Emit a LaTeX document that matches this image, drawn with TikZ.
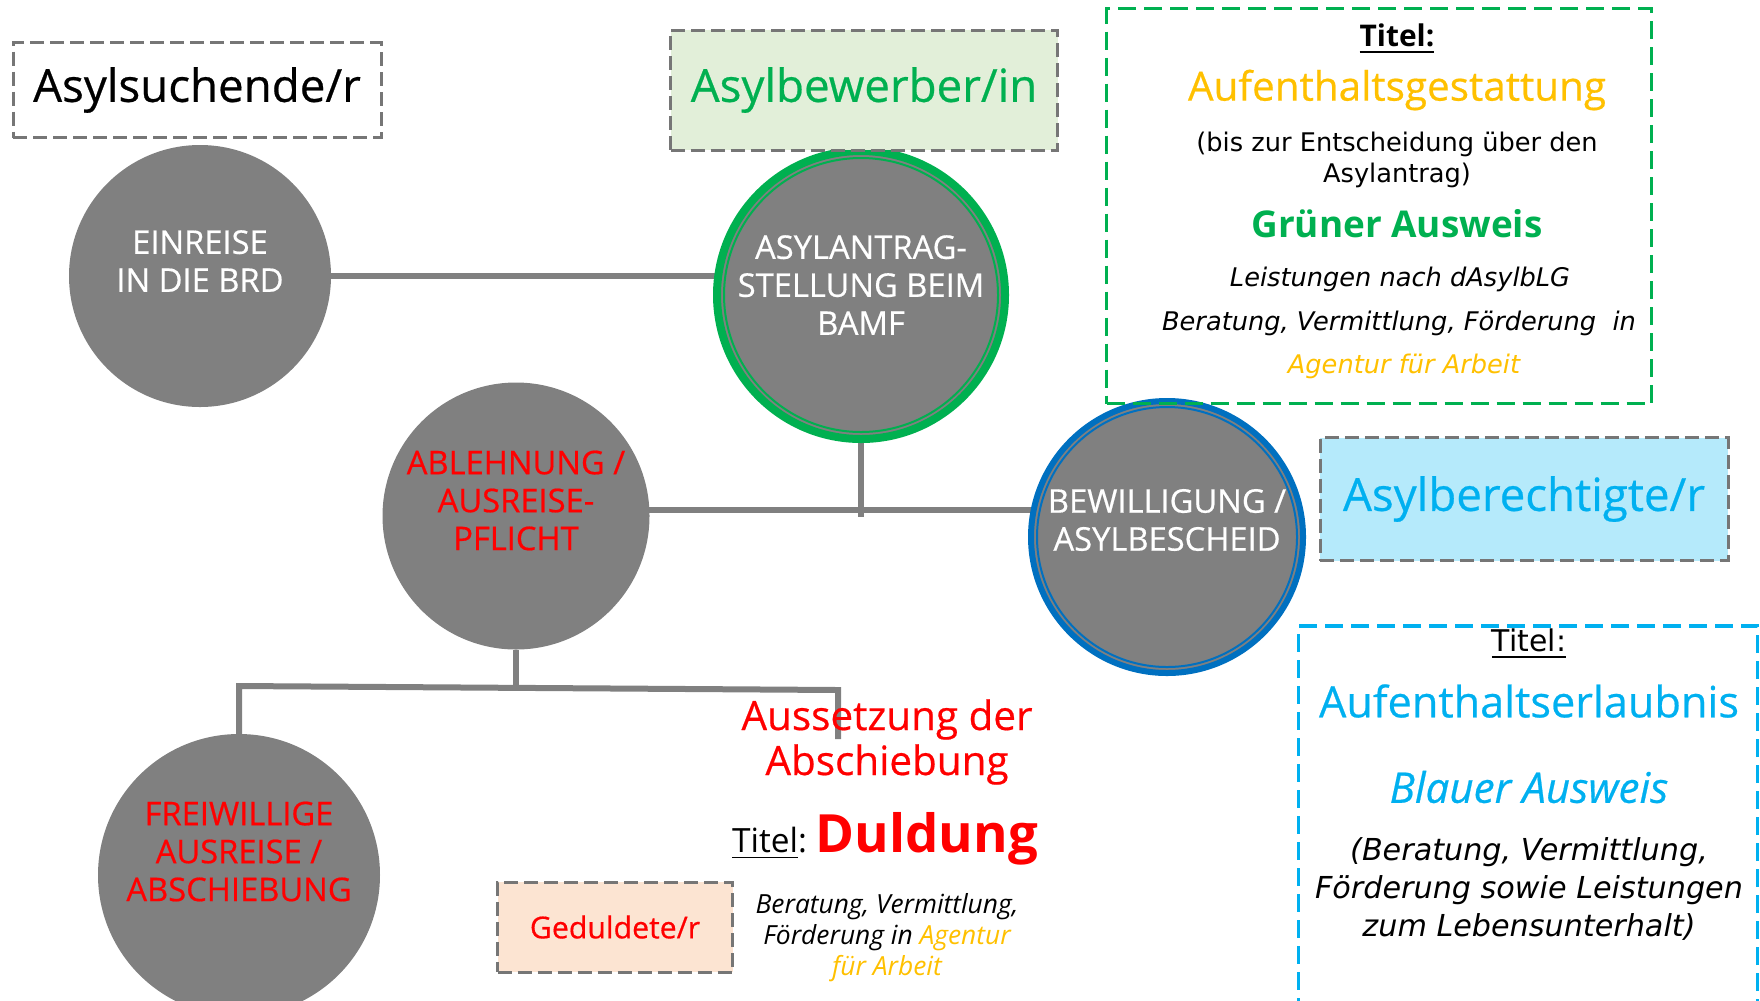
\documentclass[tikz,border=0pt]{standalone}
\usepackage{fontspec}
\setmainfont{Open Sans}
\newfontfamily\verd{DejaVu Sans}
\newfontfamily\semi{Open Sans}[FakeBold=0.5]
\usepackage{tikz}
\usetikzlibrary{shapes,positioning,backgrounds}
\definecolor{cgray}{RGB}{128,128,128}
\definecolor{dgray}{RGB}{118,118,118}
\definecolor{cgreen}{RGB}{0,176,80}
\definecolor{corange}{RGB}{255,192,0}
\definecolor{cblue}{RGB}{0,112,192}
\definecolor{clblue}{RGB}{0,176,240}
\definecolor{cred}{RGB}{255,0,0}
\definecolor{fgreen}{RGB}{226,239,217}
\definecolor{fblue}{RGB}{181,234,251}
\definecolor{fpeach}{RGB}{252,228,210}
\tikzstyle{circ} = [circle, fill=cgray, inner sep=0pt, outer sep=0pt]
\tikzstyle{ctext} = [text=white, align=center, inner sep=0pt, font=\semi\fontsize{9.3}{10.8}\selectfont]
\tikzstyle{tag} = [rectangle, draw=dgray, line width=0.3mm, dash pattern=on 1.4mm off 0.6mm, inner sep=0pt, font=\semi\fontsize{13}{15}\selectfont]
\tikzstyle{info} = [rectangle, line width=0.35mm, dash pattern=on 1.8mm off 0.8mm, inner sep=0pt]
\tikzstyle{textonly} = [draw=none, fill=none, inner sep=0pt, align=center]
\tikzstyle{conn} = [draw=cgray, line width=0.6mm]

\begin{document}
\begin{tikzpicture}[x=0.1mm, y=-0.1mm]
\useasboundingbox (0,0) rectangle (1760,1000);
\clip (0,0) rectangle (1760,1000);

% steps =============================
\node[circ, minimum size=26.2mm, label={[ctext, yshift=1.5mm]center:{EINREISE\\IN DIE BRD}}] (einreise) at (200,276) {};
\node[circ, draw=cgreen, line width=0.8mm, minimum size=28.8mm, label={[ctext, yshift=1mm]center:{ASYLANTRAG-\\STELLUNG BEIM\\BAMF}}] (antrag) at (861,295) {};
\node[circ, draw=cblue, line width=0.6mm, minimum size=27.2mm, label={[ctext, yshift=1.7mm]center:{BEWILLIGUNG /\\ASYLBESCHEID}}] (bewilligung) at (1167,537) {};
\node[circ, minimum size=26.7mm, label={[ctext, text=cred, yshift=1.55mm]center:{ABLEHNUNG /\\AUSREISE-\\PFLICHT}}] (ablehnung) at (516,516) {};
\node[circ, minimum size=28.2mm, label={[ctext, text=cred, yshift=2.35mm]center:{FREIWILLIGE\\AUSREISE /\\ABSCHIEBUNG}}] (freiwillige) at (239,875) {};
\draw[cgreen, line width=0.2mm] (antrag.center) circle [radius=13.7mm];
\draw[cblue, line width=0.2mm] (bewilligung.center) circle [radius=13.0mm];

% status boxes
\node[tag, minimum width=36.8mm, minimum height=9.5mm] (suchende) at (197,90) {Asylsuchende/r};
\node[tag, fill=fgreen, text=cgreen, minimum width=38.7mm, minimum height=12mm] (bewerber) at (864,90) {Asylbewerber/in};
\node[tag, fill=fblue, text=clblue, minimum width=40.8mm, minimum height=12.3mm] (berechtigte) at (1524,499) {Asylberechtigte/r};
\node[tag, fill=fpeach, text=cred, minimum width=23.5mm, minimum height=9mm, font=\semi\fontsize{8.6}{10}\selectfont] (geduldete) at (615,927) {Geduldete/r};

% title boxes
\node[info, draw=cgreen, minimum width=54.5mm, minimum height=39.5mm] (gestattung) at (1379,206) {};
\node[info, draw=clblue, minimum width=45.9mm, minimum height=40mm] (erlaubnis) at (1528,826) {};

\node[textonly, font=\fontsize{8.5}{10}\selectfont\bfseries] (gtitel) at (1397,39) {\underline{Titel:}};
\node[textonly, text=corange, font=\semi\fontsize{11.5}{13}\selectfont] (gname) at (1397,90) {Aufenthaltsgestattung};
\node[textonly, font=\verd\fontsize{7.3}{8.8}\selectfont] (gbis) at (1397,160) {(bis zur Entscheidung über den\\Asylantrag)};
\node[textonly, text=cgreen, font=\fontsize{10.5}{12}\selectfont\bfseries] (gausweis) at (1397,224) {Grüner Ausweis};
\node[textonly, font=\verd\fontsize{7.3}{8.8}\selectfont\itshape] (gleist) at (1400,279) {Leistungen nach dAsylbLG};
\node[textonly, font=\verd\fontsize{7.3}{8.8}\selectfont\itshape] (gberat) at (1399,323) {Beratung, Vermittlung, Förderung\ \ in};
\node[textonly, text=corange, font=\verd\fontsize{7.3}{8.8}\selectfont\itshape] (gagentur) at (1404,366) {Agentur für Arbeit};

\node[textonly, font=\verd\fontsize{8.5}{10}\selectfont] (btitel) at (1529,644) {\underline{Titel:}};
\node[textonly, text=clblue, font=\semi\fontsize{12.3}{14}\selectfont] (bname) at (1529,701) {Aufenthaltserlaubnis};
\node[textonly, text=clblue, font=\semi\fontsize{12}{13}\selectfont\itshape] (bausweis) at (1529,787) {Blauer Ausweis};
\node[textonly, font=\verd\fontsize{8.6}{10.95}\selectfont\itshape] (bberat) at (1529,889) {(Beratung, Vermittlung,\\Förderung sowie Leistungen\\zum Lebensunterhalt)};

\node[textonly, text=cred, font=\semi\fontsize{11.5}{12.8}\selectfont] (aussetzung) at (887,742) {Aussetzung der\\Abschiebung};
\node[textonly, anchor=base] (duldung) at (885,852) {\fontsize{9.5}{11}\selectfont\underline{Titel}:\ {\fontsize{15}{18}\selectfont\bfseries\color{cred}Duldung}};
\node[textonly, font=\fontsize{7.5}{8.8}\selectfont\itshape] (dberat) at (887,938) {Beratung, Vermittlung,\\Förderung in \textcolor{corange}{Agentur}\\\textcolor{corange}{für Arbeit}};

% edges
\coordinate (mid) at (861,510);
\coordinate (split) at (516,686);
\coordinate (lft) at (239,686);
\coordinate (rgt) at (838,690);
\coordinate (rend) at (838,739);
\begin{scope}[on background layer]
\path[conn] (einreise.center) -- (einreise.center -| antrag.center);
\path[conn] (antrag.south) -- ([yshift=-0.7mm]mid);
\path[conn] (ablehnung.center |- mid) -- (bewilligung.center |- mid);
\path[conn] (ablehnung.south) -- (split);
\path[conn] (freiwillige.north) -- (lft) -- (rgt) -- (rend);
\end{scope}

\end{tikzpicture}
\end{document}
